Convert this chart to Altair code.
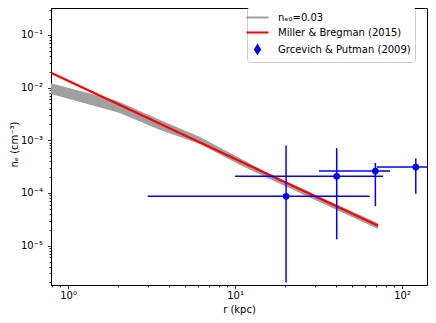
import altair as alt
import pandas as pd
import json

# ---- data ----
# grey band (n_e0 = 0.03 model family): radius, lower and upper envelope
band_r  = [0.79, 1.90, 2.05, 3.56, 6.17, 10.7, 15.5, 71.8]
band_lo = [0.00759, 0.00351, 0.00327, 0.00157, 8.55e-4, 3.41e-4, 1.94e-4, 2.08e-5]
band_hi = [0.0121, 0.00585, 0.00528, 0.00244, 0.00116, 4.57e-4, 2.44e-4, 2.65e-5]

# Miller & Bregman (2015) line endpoints
mb_r = [0.79, 71.8]
mb_n = [0.0192, 2.38e-5]

# Grcevich & Putman (2009) points with errors
gp_r    = [20.2, 40.6, 69.2, 120.8]
gp_n    = [8.65e-5, 2.07e-4, 2.6e-4, 3.1e-4]
gp_r_lo = [3.0, 10.0, 31.8, 70.5]
gp_r_hi = [64.0, 77.0, 84.7, 147.0]
gp_n_lo = [2.0e-6, 1.32e-5, 5.6e-5, 9.7e-5]
gp_n_hi = [8.0e-4, 7.1e-4, 3.7e-4, 4.5e-4]

series_labels = ["nₑ₀=0.03", "Miller & Bregman (2015)", "Grcevich & Putman (2009)"]
series_colors = ["#a0a0a0", "#ff0000", "#0000ff"]

x_domain = [0.79, 141]
y_domain = [1.79e-6, 0.325]
x_major = [1, 10, 100]
x_major_labels = ["10⁰", "10¹", "10²"]
y_major = [1e-5, 1e-4, 1e-3, 1e-2, 1e-1]
y_major_labels = ["10⁻⁵", "10⁻⁴", "10⁻³", "10⁻²", "10⁻¹"]

# ---- tick helpers ----
def log_ticks(lo, hi, e0, e1):
    vals = []
    for e in range(e0, e1 + 1):
        for k in range(1, 10):
            v = float(f"{k}e{e}")
            if lo <= v <= hi:
                vals.append(v)
    return vals

x_ticks = log_ticks(x_domain[0], x_domain[1], -1, 2)
y_ticks = log_ticks(y_domain[0], y_domain[1], -6, -1)

def label_expr(vals, labels):
    expr = "''"
    for v, l in zip(reversed(vals), reversed(labels)):
        expr = f"datum.value == {json.dumps(v)} ? '{l}' : ({expr})"
    return expr

def tick_size(vals):
    return {"condition": {"test": f"indexof({json.dumps(vals)}, datum.value) >= 0", "value": 3.5},
            "value": 2}

W, H = 376, 277

xscale = alt.Scale(type="log", domain=x_domain, nice=False)
yscale = alt.Scale(type="log", domain=y_domain, nice=False)

xaxis = alt.Axis(values=x_ticks, labelExpr=label_expr(x_major, x_major_labels),
                 tickSize=tick_size(x_major), title="r (kpc)", labelPadding=2,
                 titleY=19, titleBaseline="top", labelFlush=False, labelOverlap=False)
yaxis = alt.Axis(values=y_ticks, labelExpr=label_expr(y_major, y_major_labels),
                 tickSize=tick_size(y_major), title="nₑ (cm⁻³)", labelPadding=5,
                 titleX=-32, titleY=136, titleBaseline="bottom", labelOverlap=False)

band_df = pd.DataFrame({"r": band_r, "lo": band_lo, "hi": band_hi})
mb_df = pd.DataFrame({"r": mb_r, "n": mb_n})
gp_df = pd.DataFrame({"r": gp_r, "n": gp_n, "rlo": gp_r_lo, "rhi": gp_r_hi,
                      "nlo": gp_n_lo, "nhi": gp_n_hi})
leg_df = pd.DataFrame({"series": series_labels})

band = alt.Chart(band_df).mark_area(color=series_colors[0], clip=True).encode(
    x=alt.X("r:Q", scale=xscale, axis=xaxis),
    y=alt.Y("lo:Q", scale=yscale, axis=yaxis),
    y2="hi:Q",
)

mb = alt.Chart(mb_df).mark_line(color=series_colors[1], strokeWidth=2.2, clip=True).encode(
    x=alt.X("r:Q", scale=xscale),
    y=alt.Y("n:Q", scale=yscale),
)

xerr = alt.Chart(gp_df).mark_rule(color=series_colors[2], strokeWidth=1.5, clip=True).encode(
    x=alt.X("rlo:Q", scale=xscale), x2="rhi:Q", y=alt.Y("n:Q", scale=yscale))
yerr = alt.Chart(gp_df).mark_rule(color=series_colors[2], strokeWidth=1.5, clip=True).encode(
    x=alt.X("r:Q", scale=xscale), y=alt.Y("nlo:Q", scale=yscale), y2="nhi:Q")
pts = alt.Chart(gp_df).mark_point(filled=True, color=series_colors[2], size=45, opacity=1,
                                  clip=True).encode(
    x=alt.X("r:Q", scale=xscale), y=alt.Y("n:Q", scale=yscale))

line_path = "M-2,0H2"
diamond_path = "M0,-0.75L0.45,0L0,0.75L-0.45,0Z"
leg_scale_c = alt.Scale(domain=series_labels, range=series_colors)
leg_scale_s = alt.Scale(domain=series_labels, range=[line_path, line_path, diamond_path])
legend = alt.Legend(title=None, orient="none", legendX=196, legendY=-1,
                    labelFont="DejaVu Sans", labelFontSize=10, labelColor="black",
                    symbolSize=121, symbolStrokeWidth=2, labelOffset=14,
                    rowPadding=3, padding=4, strokeColor="#cccccc",
                    fillColor="white", cornerRadius=3, symbolOpacity=1)
leg = alt.Chart(leg_df).mark_point(filled=True, size=121, clip=True, opacity=1).encode(
    x=alt.value(-200), y=alt.value(-200),
    fill=alt.Fill("series:N", scale=leg_scale_c, legend=legend),
    stroke=alt.Stroke("series:N", scale=leg_scale_c, legend=legend),
    shape=alt.Shape("series:N", scale=leg_scale_s, legend=legend),
)

chart = alt.layer(band, mb, xerr, yerr, pts, leg).properties(
    width=W, height=H,
    autosize=alt.AutoSizeParams(type="none"),
    padding={"left": 43, "top": 0, "right": 1, "bottom": 30},
).configure(font="DejaVu Sans").configure_view(
    stroke="black", strokeWidth=1
).configure_axis(
    grid=False, domainColor="black", tickColor="black", labelColor="black",
    titleColor="black", labelFontSize=10, titleFontSize=10, titleFontWeight="normal",
    labelFont="DejaVu Sans", titleFont="DejaVu Sans", domainWidth=1, tickWidth=0.8,
)

chart.save("out.html", embed_options={"renderer": "svg", "actions": False})
